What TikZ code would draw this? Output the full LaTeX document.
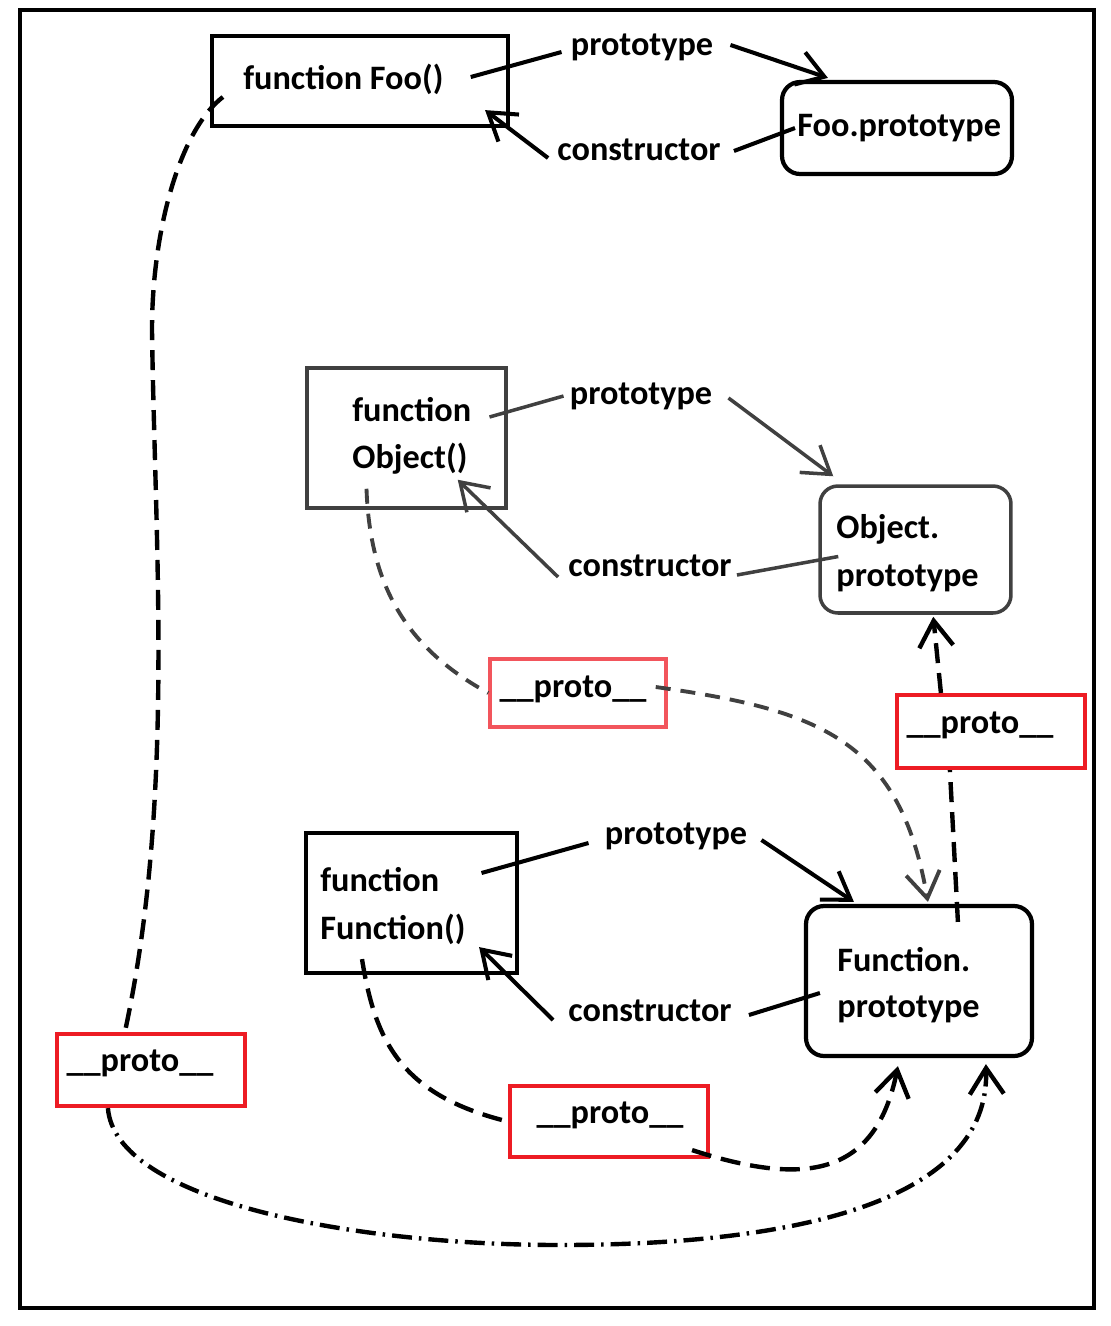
\documentclass[tikz,border=0pt]{standalone}
\usepackage{fontspec}
\setmainfont{Carlito}
\usetikzlibrary{arrows.meta, positioning, calc}
\definecolor{protored}{HTML}{ED1C24}
\definecolor{protopink}{HTML}{F2555C}
\definecolor{objgray}{HTML}{404040}

\begin{document}
\begin{tikzpicture}[x=0.02cm, y=-0.02cm,
  >={Straight Barb[length=5.2mm, width=6.8mm]},
  txt/.style={font=\fontsize{19.5}{22}\selectfont\bfseries, inner sep=0pt},
  fnbox/.style={draw, line width=2.4pt},
  pbox/.style={draw, line width=2.4pt, rounded corners=3.6mm},
  protobox/.style={draw=protored, line width=2.4pt, minimum width=3.76cm, minimum height=1.44cm},
  link/.style={line width=2.3pt},
  glink/.style={objgray, line width=2pt},
  bdash/.style={line width=2.5pt, dash pattern=on 4mm off 2mm},
  gdash/.style={objgray, line width=2.2pt, dash pattern=on 3mm off 2mm},
  ddash/.style={line width=2.5pt, dash pattern=on 4mm off 1.4mm on 0.5mm off 1.4mm}]

\useasboundingbox (0,0) rectangle (1111,1326);

% Frame
\draw[line width=2.3pt] (20,10) rectangle (1094,1308);

% Foo
\node[fnbox, minimum width=5.92cm, minimum height=1.8cm] (foo) at (360,81) {};
\node[txt, anchor=west] (fooTxt) at (243,79) {function Foo()};
\node[pbox, minimum width=4.6cm, minimum height=1.84cm] (fooP) at (897,128) {};
\node[txt, anchor=west] (fooPTxt) at (797,128) {Foo.prototype};
\node[txt] (protoA) at (642,47) {prototype};
\node[txt] (ctorA) at (639,150) {constructor};

\draw[link] ($(fooTxt.east)+(27,-2)$) -- ($(protoA.west)+(-9,5)$);
\draw[link, ->] ($(protoA.east)+(17,-2)$) -- ($(fooP.north west)+(48,-2)$);
\draw[link] ($(fooPTxt.west)+(-2,0)$) -- ($(ctorA.east)+(13,1)$);
\draw[link, ->] ($(ctorA.west)+(-9,8)$) -- ($(foo.south east)+(-25,-18)$);

% Object
\node[fnbox, draw=objgray, line width=2pt, minimum width=3.98cm, minimum height=2.8cm] (obj) at (406.5,438) {};
\node[txt, anchor=west] (objT1) at (352,410) {function};
\node[txt, anchor=west] (objT2) at (352,459) {Object()};
\node[pbox, draw=objgray, line width=2pt, minimum width=3.82cm, minimum height=2.54cm] (objP) at (915.5,549.5) {};
\node[txt, anchor=west] (objPT1) at (836,529) {Object.};
\node[txt, anchor=west] (objPT2) at (836,578) {prototype};
\node[txt] (protoB) at (641,396) {prototype};
\node[txt] (ctorB) at (650,566) {constructor};

\draw[glink] ($(objT1.east)+(18,7)$) -- ($(protoB.west)+(-6,0)$);
\draw[glink, ->] ($(protoB.east)+(16,2)$) -- ($(objP.north west)+(15,-8)$);
\draw[glink] ($(objP.west)+(20,7)$) -- ($(ctorB.east)+(5,9)$);
\draw[glink, ->] ($(ctorB.west)+(-10,11)$) -- ($(obj.south east)+(-50,-30)$);

% Function
\node[fnbox, minimum width=4.22cm, minimum height=2.8cm] (fn) at (411.5,903) {};
\node[txt, anchor=west] (fnT1) at (320,880) {function};
\node[txt, anchor=west] (fnT2) at (320,929) {Function()};
\node[pbox, minimum width=4.52cm, minimum height=3cm] (fnP) at (919,981) {};
\node[txt, anchor=west] (fnPT1) at (837,960) {Function.};
\node[txt, anchor=west] (fnPT2) at (837,1009) {prototype};
\node[txt] (protoC) at (676,836) {prototype};
\node[txt] (ctorC) at (650,1011) {constructor};

\draw[link] ($(fnT1.east)+(42,-7)$) -- ($(protoC.west)+(-16,7)$);
\draw[link, ->] ($(protoC.east)+(14,4)$) -- ($(fnP.north west)+(50,-2)$);
\draw[link] ($(fnP.west)+(16,12)$) -- ($(ctorC.east)+(17,4)$);
\draw[link, ->] ($(ctorC.west)+(-15,9)$) -- ($(fn.south east)+(-40,-28)$);

% __proto__ boxes
\node[protobox, draw=protopink, line width=2pt, minimum width=3.52cm, minimum height=1.36cm] (protoM) at (578,693) {};
\node[txt] at (573,689) {\_\_proto\_\_};
\node[protobox, minimum width=3.76cm, minimum height=1.46cm] (protoR) at (991,731.5) {};
\node[txt] at (980,725) {\_\_proto\_\_};
\node[protobox] (protoBL) at (151,1070) {};
\node[txt] at (140,1063) {\_\_proto\_\_};
\node[protobox, minimum width=3.96cm, minimum height=1.42cm] (protoBM) at (609,1121.5) {};
\node[txt] at (610,1115) {\_\_proto\_\_};

% __proto__ chains
\draw[gdash] ($(obj.south)+(-40,-21)$) .. controls (370,590) and (410,650) .. (protoM.west);
\draw[gdash, ->] ($(protoM.east)+(-12,-6)$) .. controls (820,710) and (900,740) .. ($(fnP.north west)+(124,-2)$);

\draw[bdash] ($(fnP.north west)+(154,18)$) -- ($(protoR.south west)+(55,0)$);
\draw[bdash, ->] ($(protoR.north west)+(46,0)$) -- ($(objP.south west)+(115,2)$);

\draw[bdash] ($(fn.south)+(-49.5,-16)$) .. controls (375,1040) and (400,1095) .. (protoBM.west);
\draw[bdash, ->] ($(protoBM.south east)+(-18,-9)$) .. controls (800,1185) and (875,1180) .. ($(fnP.south west)+(94,8)$);

\draw[bdash] ($(foo.west)+(13,16)$) .. controls (180,130) and (152,230) .. (152,330)
  .. controls (155,550) and (175,800) .. ($(protoBL.north west)+(70,0)$);
\draw[ddash, ->] ($(protoBL.south west)+(53,0)$) .. controls (115,1200) and (350,1245) .. (560,1245)
  .. controls (800,1245) and (990,1200) .. ($(fnP.south west)+(182,6)$);

\end{tikzpicture}
\end{document}
